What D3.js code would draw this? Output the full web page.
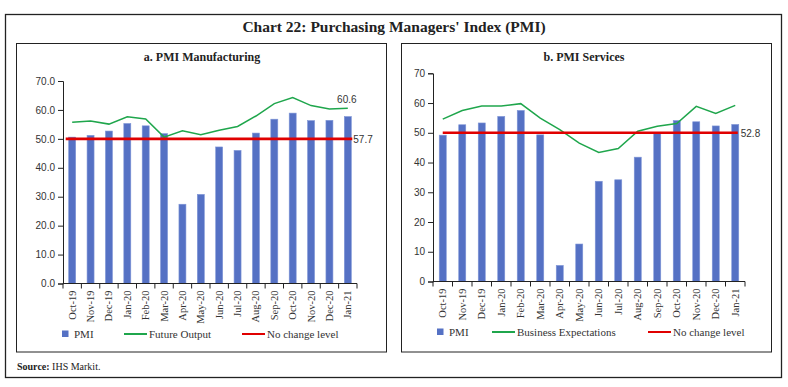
<!DOCTYPE html>
<html><head><meta charset="utf-8">
<script src="https://cdn.jsdelivr.net/npm/d3@7/dist/d3.min.js"></script>
<style>
body{margin:0;background:#fff;}
svg{display:block;}
</style></head>
<body>
<svg id="c" width="788" height="387"></svg>
<script>
const months = ["Oct-19","Nov-19","Dec-19","Jan-20","Feb-20","Mar-20","Apr-20","May-20","Jun-20","Jul-20","Aug-20","Sep-20","Oct-20","Nov-20","Dec-20","Jan-21"];
const mfgPMI = [50.6,51.2,52.7,55.3,54.5,51.8,27.4,30.8,47.2,46.0,52.0,56.8,58.9,56.3,56.4,57.7];
const mfgFuture = [55.7,56.2,55.1,57.6,56.9,50.6,52.8,51.4,53.0,54.3,57.9,62.2,64.3,61.5,60.3,60.6];
const svcPMI = [49.2,52.7,53.3,55.5,57.5,49.3,5.4,12.6,33.7,34.2,41.8,49.8,54.1,53.7,52.3,52.8];
const svcExpect = [54.6,57.5,59.0,59.0,59.8,54.9,51.1,46.5,43.4,44.7,50.5,52.2,53.1,58.9,56.5,59.2];
const noChange = 50;
const mfgTicks = [0,10,20,30,40,50,60,70];
const svcTicks = [0,10,20,30,40,50,60,70];

const svg = d3.select("#c");
const serif = "'Liberation Serif', 'DejaVu Serif', serif";
const sans = "'Liberation Sans', Arial, sans-serif";
const BLUE = "#5571c4", GREEN = "#1fa64c", RED = "#e00000", TXT = "#333";

// outer frame
svg.append("rect").attr("x",5.5).attr("y",14.5).attr("width",776).attr("height",363)
  .attr("fill","none").attr("stroke","#222").attr("stroke-width",1.3);
svg.append("text").attr("x",394).attr("y",32).attr("text-anchor","middle")
  .attr("font-family",serif).attr("font-weight","bold").attr("font-size",15.5).attr("fill","#222")
  .text("Chart 22: Purchasing Managers' Index (PMI)");
const src = svg.append("text").attr("x",17).attr("y",369.5).attr("font-family",serif).attr("font-size",10).attr("fill","#222");
src.append("tspan").attr("font-weight","bold").text("Source:");
src.append("tspan").text(" IHS Markit.");

function panel(cfg){
  const g = svg.append("g");
  g.append("rect").attr("x",cfg.bx).attr("y",43.5).attr("width",cfg.bw).attr("height",308.5)
    .attr("fill","none").attr("stroke","#222").attr("stroke-width",1);
  g.append("text").attr("x",cfg.tx).attr("y",61).attr("text-anchor","middle")
    .attr("font-family",serif).attr("font-weight","bold").attr("font-size",12).attr("fill","#222").text(cfg.title);

  const y = d3.scaleLinear().domain([0,70]).range([cfg.y0, cfg.y70]);
  const x = d3.scaleBand().domain(months).range([cfg.x0, cfg.x1]).paddingInner(cfg.pad).paddingOuter(cfg.pad/2);
  const cx = d => x(d) + x.bandwidth()/2;

  // y axis
  const ya = g.append("g").attr("transform",`translate(${cfg.x0},0)`)
    .call(d3.axisLeft(y).tickValues(cfg.ticks).tickSize(5).tickPadding(3).tickFormat(cfg.fmt));
  ya.select(".domain").attr("stroke","#222");
  ya.selectAll(".tick line").attr("stroke","#222");
  ya.selectAll("text").attr("font-family",sans).attr("font-size",10).attr("fill",TXT);

  // bars
  g.selectAll(".bar").data(months).join("rect")
    .attr("x",d=>x(d)).attr("width",x.bandwidth())
    .attr("y",(d,i)=>y(cfg.bars[i])).attr("height",(d,i)=>y(0)-y(cfg.bars[i]))
    .attr("fill",BLUE).attr("stroke","#7f95d6").attr("stroke-width",0.6);

  // x axis
  const xa = g.append("g").attr("transform",`translate(0,${cfg.y0})`);
  xa.append("line").attr("x1",cfg.x0).attr("x2",cfg.x1).attr("stroke","#222");
  const bounds = months.map(d=>x(d)-x.step()*x.paddingInner()/2).concat([cfg.x1]);
  xa.selectAll(".tk").data(bounds).join("line")
    .attr("x1",d=>d).attr("x2",d=>d).attr("y1",0).attr("y2",5).attr("stroke","#222");
  xa.selectAll(".lb").data(months).join("text")
    .attr("transform",d=>`translate(${cx(d)+3.5},7) rotate(-90)`)
    .attr("text-anchor","end").attr("font-family",serif).attr("font-size",10.5).attr("fill",TXT).text(d=>d);

  // green line
  g.append("path").datum(cfg.line)
    .attr("d", d3.line().x((v,i)=>cx(months[i])).y(v=>y(v)))
    .attr("fill","none").attr("stroke",GREEN).attr("stroke-width",1.5);

  // red no-change line
  const first = months[0], last = months[months.length-1];
  g.append("line").attr("x1",x(first)+cfg.redL).attr("x2",x(last)+x.bandwidth()+cfg.redR)
    .attr("y1",y(noChange)).attr("y2",y(noChange)).attr("stroke",RED).attr("stroke-width",2.6);

  // labels
  if(cfg.lineLabel){
    g.append("text").attr("x",cx(last)-1).attr("y",y(cfg.line[cfg.line.length-1])-5).attr("text-anchor","middle")
      .attr("font-family",sans).attr("font-size",10).attr("fill",TXT).text(cfg.lineLabel);
  }
  g.append("text").attr("x",x(last)+x.bandwidth()+2).attr("y",y(noChange)+4)
    .attr("font-family",sans).attr("font-size",10).attr("fill",TXT).text(cfg.barLabel);

  // legend
  const ly = cfg.ly;
  g.append("rect").attr("x",cfg.lg[0]).attr("y",ly-3.5).attr("width",6.5).attr("height",6.5).attr("fill",BLUE);
  g.append("text").attr("x",cfg.lg[0]+12).attr("y",ly+3.5).attr("font-family",serif).attr("font-size",11).attr("fill",TXT).text("PMI");
  g.append("line").attr("x1",cfg.lg[1]).attr("x2",cfg.lg[1]+23).attr("y1",ly).attr("y2",ly).attr("stroke",GREEN).attr("stroke-width",2);
  g.append("text").attr("x",cfg.lg[1]+25).attr("y",ly+3.5).attr("font-family",serif).attr("font-size",11).attr("fill",TXT).text(cfg.lineName);
  g.append("line").attr("x1",cfg.lg[2]).attr("x2",cfg.lg[2]+23).attr("y1",ly).attr("y2",ly).attr("stroke",RED).attr("stroke-width",2);
  g.append("text").attr("x",cfg.lg[2]+25).attr("y",ly+3.5).attr("font-family",serif).attr("font-size",11).attr("fill",TXT).text("No change level");
}

panel({bx:16.5,bw:370,tx:202,title:"a. PMI Manufacturing",y0:283.5,y70:81,x0:63,x1:357,pad:0.62,
  ticks:mfgTicks,fmt:d3.format(".1f"),bars:mfgPMI,line:mfgFuture,lineLabel:"60.6",barLabel:"57.7",
  redL:-3,redR:1,ly:334,lg:[62,124,242],lineName:"Future Output"});
panel({bx:401.5,bw:370,tx:584,title:"b. PMI Services",y0:281.5,y70:73.3,x0:433,x1:745,pad:0.64,
  ticks:svcTicks,fmt:d3.format("d"),bars:svcPMI,line:svcExpect,lineLabel:null,barLabel:"52.8",
  redL:3.5,redR:-1,ly:332,lg:[437,492,648],lineName:"Business Expectations"});
</script>
</body></html>
